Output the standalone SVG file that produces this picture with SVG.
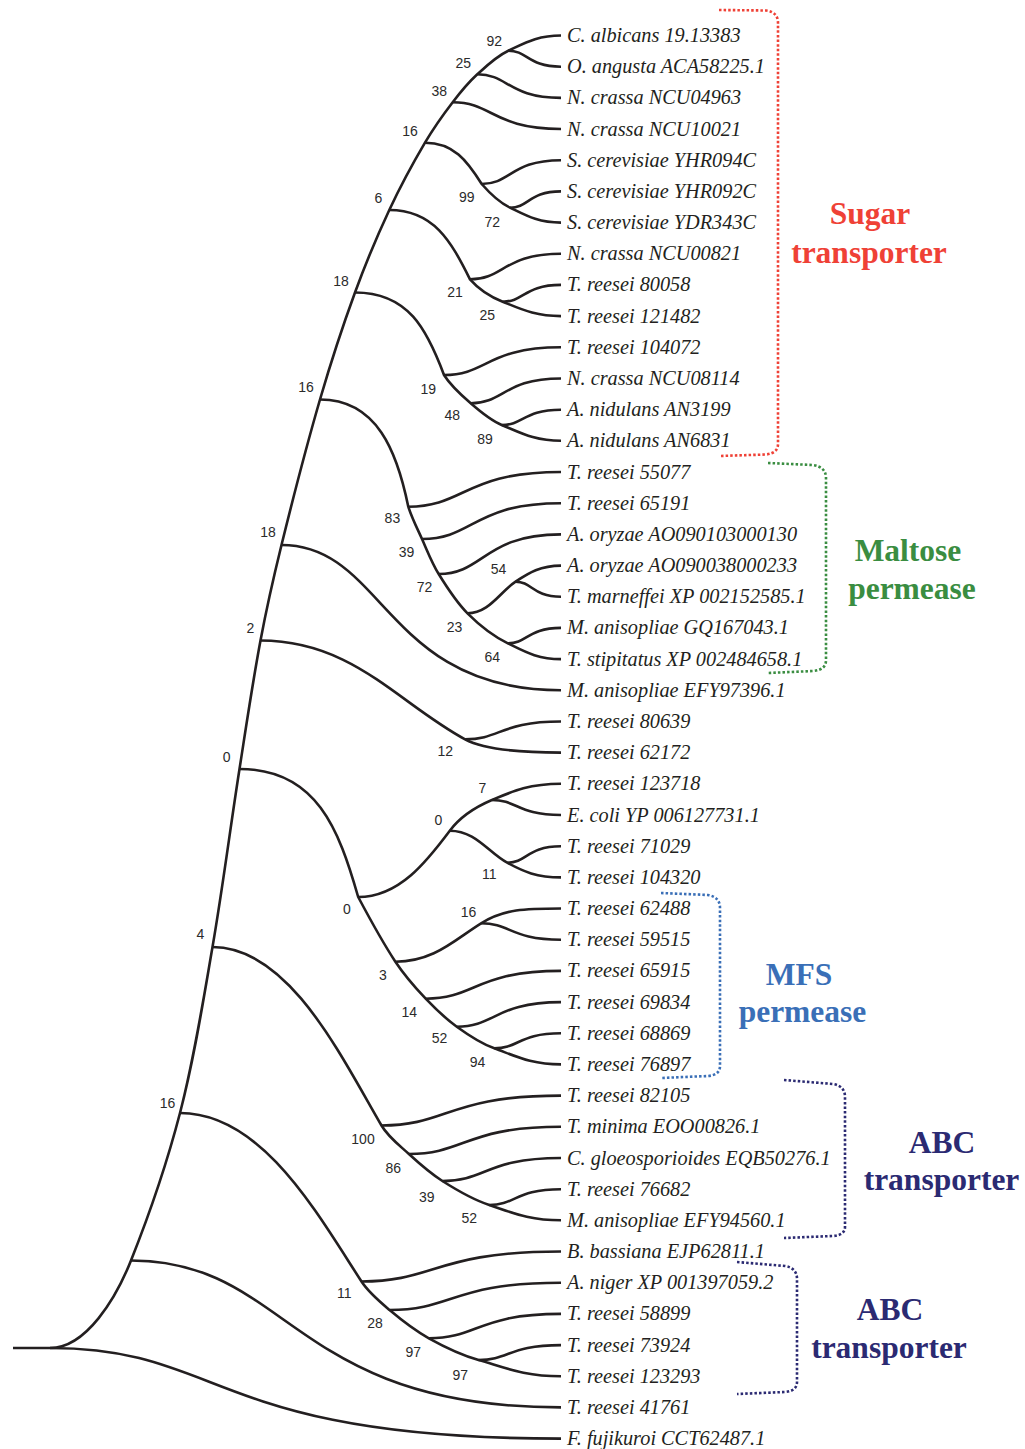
<svg xmlns="http://www.w3.org/2000/svg" width="1025" height="1449" viewBox="0 0 1025 1449">
<style>
.br{fill:none;stroke:#231f20;stroke-width:2.6;stroke-linejoin:round}
.lf{font-family:"Liberation Serif","Times New Roman",serif;font-style:italic;font-size:20.3px;fill:#231f20}
.bs{font-family:"Liberation Sans",Arial,sans-serif;font-size:14px;fill:#2b2b2b;text-anchor:middle}
.gl{font-family:"Liberation Serif","Times New Roman",serif;font-weight:bold;font-size:31.5px;text-anchor:middle}
.dot{fill:none;stroke-width:2.6;stroke-dasharray:2.5 2.1}
</style>
<rect width="1025" height="1449" fill="#ffffff"/>
<g id="connectors">
<path class="br" d="M13,1348 L50,1348 C86.5,1348 116.3,1297.4 131,1260.5 C150.1,1212.4 167,1163.1 180,1113 C194.2,1058.4 202.9,1002.6 212.5,947 C222.7,887.9 230.2,828.3 239.5,769 C246.2,726.1 252.5,683.2 260.5,640.5 C266.5,608.5 273.7,576.7 281.5,545 C293.5,496.3 306,447.7 320,399.5 C330.5,363.5 342.1,327.7 355,292.5 C365.2,264.5 376.7,237 389.3,210 C400.1,187 412.1,164.6 425,142.7 C433.3,128.7 442.8,115.2 452.7,102.3 C460.2,92.4 468.2,82.7 477.3,74.3 C486.8,65.5 496.5,56.2 508.3,50.7 C524.9,43 537.3,35.5 561,35.5"/>
<path class="br" d="M50,1348 C225,1348 210,1438.6 561,1438.6"/>
<path class="br" d="M131,1260.5 C290.1,1260.5 290.1,1407.4 561,1407.4"/>
<path class="br" d="M281.5,545 C384.9,545 384.9,690.3 561,690.3"/>
<path class="br" d="M180,1113 C261.7,1113 316.5,1212.2 361.5,1281.5 C368.8,1292.7 379.4,1301.4 389.6,1310 C401.9,1320.4 414.8,1330.4 428.9,1338.3 C444.7,1347.1 461.2,1355 478.6,1360 C505.5,1367.7 523.9,1376.2 561,1376.2"/>
<path class="br" d="M361.5,1281.5 C435.3,1281.5 435.3,1251.5 561,1251.5"/>
<path class="br" d="M389.6,1310 C453,1310 453,1282.7 561,1282.7"/>
<path class="br" d="M428.9,1338.3 C477.8,1338.3 477.8,1313.9 561,1313.9"/>
<path class="br" d="M478.6,1360 C509.1,1360 509.1,1345.1 561,1345.1"/>
<path class="br" d="M212.5,947 C288.6,947 340.3,1054.7 381.5,1125.5 C388.1,1136.9 399.2,1145.1 408.9,1154 C419.5,1163.7 430.3,1173.3 442.4,1181 C457.2,1190.4 472.6,1199.5 489.3,1205 C512.5,1212.7 528.7,1220.3 561,1220.3"/>
<path class="br" d="M381.5,1125.5 C447.9,1125.5 447.9,1095.6 561,1095.6"/>
<path class="br" d="M408.9,1154 C465.2,1154 465.2,1126.8 561,1126.8"/>
<path class="br" d="M442.4,1181 C486.3,1181 486.3,1158 561,1158"/>
<path class="br" d="M489.3,1205 C515.8,1205 515.8,1189.2 561,1189.2"/>
<path class="br" d="M239.5,769 C316.7,769 339,829.9 358.2,897 C369.9,919 381.7,941 395.4,961.7 C404.2,975 414.8,987.1 425.7,998.7 C435.3,1008.8 445.5,1018.5 456.8,1026.7 C468.5,1035.2 480.7,1043.4 494.3,1048.3 C515.8,1056.1 531,1064.4 561,1064.4"/>
<path class="br" d="M358.2,897 C399.4,897 427.2,860.9 449.8,830.7 C460.2,816.8 475.9,806.8 491.9,800 C513.7,790.8 529.9,783.8 561,783.8"/>
<path class="br" d="M491.9,800 C517.5,800 517.5,815 561,815"/>
<path class="br" d="M449.8,830.7 C475.6,830.7 488,852.2 507.2,862.7 C523.5,871.6 536.8,877.4 561,877.4"/>
<path class="br" d="M507.2,862.7 C527.1,862.7 527.1,846.2 561,846.2"/>
<path class="br" d="M395.4,961.7 C434,961.7 454.5,939.8 481.1,923.3 C504.1,909 525,908.5 561,908.5"/>
<path class="br" d="M481.1,923.3 C510.7,923.3 510.7,939.7 561,939.7"/>
<path class="br" d="M425.7,998.7 C475.8,998.7 475.8,970.9 561,970.9"/>
<path class="br" d="M456.8,1026.7 C495.4,1026.7 495.4,1002.1 561,1002.1"/>
<path class="br" d="M494.3,1048.3 C519,1048.3 519,1033.3 561,1033.3"/>
<path class="br" d="M260.5,640.5 C352.6,640.5 398.4,703.4 465.1,739.3 C482.7,748.8 517.8,752.6 561,752.6"/>
<path class="br" d="M465.1,739.3 C500.6,739.3 500.6,721.5 561,721.5"/>
<path class="br" d="M320,399.5 C377.4,399.5 397.2,452.2 408.3,506.7 C411.8,517.9 417.2,528.3 422,539 C427.3,550.8 431.9,563 438.7,574 C447.2,587.8 456,601.8 467.5,613.3 C479.4,625.2 492.8,635.9 507.9,643.3 C524.5,651.4 537.1,659.1 561,659.1"/>
<path class="br" d="M408.3,506.7 C464.8,506.7 464.8,472 561,472"/>
<path class="br" d="M422,539 C473.4,539 473.4,503.2 561,503.2"/>
<path class="br" d="M438.7,574 C483.9,574 483.9,534.4 561,534.4"/>
<path class="br" d="M467.5,613.3 C489.1,613.3 499.6,592.3 515.6,581.7 C529,572.8 540.6,565.6 561,565.6"/>
<path class="br" d="M515.6,581.7 C532.4,581.7 532.4,596.7 561,596.7"/>
<path class="br" d="M507.9,643.3 C527.5,643.3 527.5,627.9 561,627.9"/>
<path class="br" d="M355,292.5 C408.4,292.5 427,329.5 444,375 C450.9,386 460.9,394.8 470.7,403.3 C480.2,411.6 490.1,420.2 501.7,425 C520.6,432.8 534.3,440.8 561,440.8"/>
<path class="br" d="M444,375 C487.3,375 487.3,347.3 561,347.3"/>
<path class="br" d="M470.7,403.3 C504.1,403.3 504.1,378.5 561,378.5"/>
<path class="br" d="M501.7,425 C523.6,425 523.6,409.7 561,409.7"/>
<path class="br" d="M389.3,210 C433.7,210 451,241.2 470,279.3 C478.7,289.2 490.5,296.8 502.7,301.7 C521.3,309.2 534.8,316.1 561,316.1"/>
<path class="br" d="M470,279.3 C503.7,279.3 503.7,253.8 561,253.8"/>
<path class="br" d="M502.7,301.7 C524.3,301.7 524.3,284.9 561,284.9"/>
<path class="br" d="M425,142.7 C453.4,142.7 466.9,160.3 481.7,184 C489.8,193.3 498.9,202.3 510,207.7 C525.9,215.4 538,222.6 561,222.6"/>
<path class="br" d="M481.7,184 C511,184 511,160.2 561,160.2"/>
<path class="br" d="M510,207.7 C528.9,207.7 528.9,191.4 561,191.4"/>
<path class="br" d="M452.7,102.3 C492.8,102.3 492.8,129 561,129"/>
<path class="br" d="M477.3,74.3 C508.3,74.3 508.3,97.9 561,97.9"/>
<path class="br" d="M508.3,50.7 C527.8,50.7 527.8,66.7 561,66.7"/>
</g>
<g id="leaves">
<g id="leaf01"><text class="lf" x="567" y="42">C. albicans 19.13383</text></g>
<g id="leaf02"><text class="lf" x="567" y="73.2">O. angusta ACA58225.1</text></g>
<g id="leaf03"><text class="lf" x="567" y="104.4">N. crassa NCU04963</text></g>
<g id="leaf04"><text class="lf" x="567" y="135.5">N. crassa NCU10021</text></g>
<g id="leaf05"><text class="lf" x="567" y="166.7">S. cerevisiae YHR094C</text></g>
<g id="leaf06"><text class="lf" x="567" y="197.9">S. cerevisiae YHR092C</text></g>
<g id="leaf07"><text class="lf" x="567" y="229.1">S. cerevisiae YDR343C</text></g>
<g id="leaf08"><text class="lf" x="567" y="260.3">N. crassa NCU00821</text></g>
<g id="leaf09"><text class="lf" x="567" y="291.4">T. reesei 80058</text></g>
<g id="leaf10"><text class="lf" x="567" y="322.6">T. reesei 121482</text></g>
<g id="leaf11"><text class="lf" x="567" y="353.8">T. reesei 104072</text></g>
<g id="leaf12"><text class="lf" x="567" y="385">N. crassa NCU08114</text></g>
<g id="leaf13"><text class="lf" x="567" y="416.2">A. nidulans AN3199</text></g>
<g id="leaf14"><text class="lf" x="567" y="447.3">A. nidulans AN6831</text></g>
<g id="leaf15"><text class="lf" x="567" y="478.5">T. reesei 55077</text></g>
<g id="leaf16"><text class="lf" x="567" y="509.7">T. reesei 65191</text></g>
<g id="leaf17"><text class="lf" x="567" y="540.9">A. oryzae AO090103000130</text></g>
<g id="leaf18"><text class="lf" x="567" y="572.1">A. oryzae AO090038000233</text></g>
<g id="leaf19"><text class="lf" x="567" y="603.2">T. marneffei XP 002152585.1</text></g>
<g id="leaf20"><text class="lf" x="567" y="634.4">M. anisopliae GQ167043.1</text></g>
<g id="leaf21"><text class="lf" x="567" y="665.6">T. stipitatus XP 002484658.1</text></g>
<g id="leaf22"><text class="lf" x="567" y="696.8">M. anisopliae EFY97396.1</text></g>
<g id="leaf23"><text class="lf" x="567" y="728">T. reesei 80639</text></g>
<g id="leaf24"><text class="lf" x="567" y="759.1">T. reesei 62172</text></g>
<g id="leaf25"><text class="lf" x="567" y="790.3">T. reesei 123718</text></g>
<g id="leaf26"><text class="lf" x="567" y="821.5">E. coli YP 006127731.1</text></g>
<g id="leaf27"><text class="lf" x="567" y="852.7">T. reesei 71029</text></g>
<g id="leaf28"><text class="lf" x="567" y="883.9">T. reesei 104320</text></g>
<g id="leaf29"><text class="lf" x="567" y="915">T. reesei 62488</text></g>
<g id="leaf30"><text class="lf" x="567" y="946.2">T. reesei 59515</text></g>
<g id="leaf31"><text class="lf" x="567" y="977.4">T. reesei 65915</text></g>
<g id="leaf32"><text class="lf" x="567" y="1008.6">T. reesei 69834</text></g>
<g id="leaf33"><text class="lf" x="567" y="1039.8">T. reesei 68869</text></g>
<g id="leaf34"><text class="lf" x="567" y="1070.9">T. reesei 76897</text></g>
<g id="leaf35"><text class="lf" x="567" y="1102.1">T. reesei 82105</text></g>
<g id="leaf36"><text class="lf" x="567" y="1133.3">T. minima EOO00826.1</text></g>
<g id="leaf37"><text class="lf" x="567" y="1164.5">C. gloeosporioides EQB50276.1</text></g>
<g id="leaf38"><text class="lf" x="567" y="1195.7">T. reesei 76682</text></g>
<g id="leaf39"><text class="lf" x="567" y="1226.8">M. anisopliae EFY94560.1</text></g>
<g id="leaf40"><text class="lf" x="567" y="1258">B. bassiana EJP62811.1</text></g>
<g id="leaf41"><text class="lf" x="567" y="1289.2">A. niger XP 001397059.2</text></g>
<g id="leaf42"><text class="lf" x="567" y="1320.4">T. reesei 58899</text></g>
<g id="leaf43"><text class="lf" x="567" y="1351.6">T. reesei 73924</text></g>
<g id="leaf44"><text class="lf" x="567" y="1382.7">T. reesei 123293</text></g>
<g id="leaf45"><text class="lf" x="567" y="1413.9">T. reesei 41761</text></g>
<g id="leaf46"><text class="lf" x="567" y="1445.1">F. fujikuroi CCT62487.1</text></g>
</g>
<g id="support-values">
<g id="n92"><text class="bs" x="494.3" y="45.7">92</text></g>
<g id="n25a"><text class="bs" x="463.3" y="68.3">25</text></g>
<g id="n38"><text class="bs" x="439.3" y="95.7">38</text></g>
<g id="n16b"><text class="bs" x="410" y="136">16</text></g>
<g id="n6"><text class="bs" x="378.3" y="203.3">6</text></g>
<g id="n99"><text class="bs" x="466.7" y="202.3">99</text></g>
<g id="n72a"><text class="bs" x="492.3" y="226.7">72</text></g>
<g id="n18b"><text class="bs" x="341" y="285.5">18</text></g>
<g id="n21"><text class="bs" x="455" y="296.7">21</text></g>
<g id="n25b"><text class="bs" x="487.3" y="320">25</text></g>
<g id="n16a"><text class="bs" x="306" y="391.5">16</text></g>
<g id="n19"><text class="bs" x="428.3" y="394.3">19</text></g>
<g id="n48"><text class="bs" x="452.3" y="420">48</text></g>
<g id="n89"><text class="bs" x="485" y="444.3">89</text></g>
<g id="n83"><text class="bs" x="392.4" y="523.3">83</text></g>
<g id="n18a"><text class="bs" x="268" y="537">18</text></g>
<g id="n39a"><text class="bs" x="406.5" y="556.7">39</text></g>
<g id="n54"><text class="bs" x="498.6" y="574.3">54</text></g>
<g id="n72b"><text class="bs" x="424.6" y="591.7">72</text></g>
<g id="n2"><text class="bs" x="250.5" y="633">2</text></g>
<g id="n23"><text class="bs" x="454.6" y="632.3">23</text></g>
<g id="n64"><text class="bs" x="492.3" y="661.7">64</text></g>
<g id="n12"><text class="bs" x="445.2" y="756">12</text></g>
<g id="n0a"><text class="bs" x="226.7" y="761.5">0</text></g>
<g id="n7"><text class="bs" x="482.3" y="793.3">7</text></g>
<g id="n0b"><text class="bs" x="438.3" y="825">0</text></g>
<g id="n11a"><text class="bs" x="489.2" y="879">11</text></g>
<g id="n0c"><text class="bs" x="346.8" y="914.2">0</text></g>
<g id="n16c"><text class="bs" x="468.6" y="917.3">16</text></g>
<g id="n4"><text class="bs" x="200.3" y="939.2">4</text></g>
<g id="n3"><text class="bs" x="382.8" y="980">3</text></g>
<g id="n14"><text class="bs" x="409.3" y="1016.7">14</text></g>
<g id="n52a"><text class="bs" x="439.6" y="1043.3">52</text></g>
<g id="n94"><text class="bs" x="477.5" y="1066.7">94</text></g>
<g id="n16d"><text class="bs" x="167.6" y="1108">16</text></g>
<g id="n100"><text class="bs" x="363" y="1143.5">100</text></g>
<g id="n86"><text class="bs" x="393.3" y="1173.3">86</text></g>
<g id="n39b"><text class="bs" x="426.8" y="1201.7">39</text></g>
<g id="n52b"><text class="bs" x="469.2" y="1223.3">52</text></g>
<g id="n11b"><text class="bs" x="344.3" y="1298.2">11</text></g>
<g id="n28"><text class="bs" x="375" y="1328.4">28</text></g>
<g id="n97a"><text class="bs" x="413.2" y="1356.7">97</text></g>
<g id="n97b"><text class="bs" x="460.3" y="1380">97</text></g>
</g>
<g id="clade-sugar">
<path class="dot" stroke="#ef4136" d="M719,10 L766,10.5 Q778,12 778,23 L778,444 Q778,453 766,454.5 L719,456"/>
<text class="gl" fill="#ef4136" x="870" y="224">Sugar</text>
<text class="gl" fill="#ef4136" x="869" y="263">transporter</text>
</g>
<g id="clade-maltose">
<path class="dot" stroke="#3a8d41" d="M768,463 L813,465 Q826,467 826,478 L826,660 Q826,670 813,671 L768,673"/>
<text class="gl" fill="#3a8d41" x="908" y="561">Maltose</text>
<text class="gl" fill="#3a8d41" x="912" y="598.5">permease</text>
</g>
<g id="clade-mfs">
<path class="dot" stroke="#3a6fb7" d="M661,893 L708,895 Q720,897 720,908 L720,1066 Q720,1075 708,1076 L661,1078"/>
<text class="gl" fill="#3a6fb7" x="799" y="985">MFS</text>
<text class="gl" fill="#3a6fb7" x="802.5" y="1022">permease</text>
</g>
<g id="clade-abc1">
<path class="dot" stroke="#2b2a72" d="M784,1080 L833,1084 Q845,1086 845,1097 L845,1227 Q845,1235 833,1236 L784,1238"/>
<text class="gl" fill="#2b2a72" x="942" y="1153">ABC</text>
<text class="gl" fill="#2b2a72" x="941.5" y="1190">transporter</text>
</g>
<g id="clade-abc2">
<path class="dot" stroke="#2b2a72" d="M737,1262 L785,1266 Q797,1268 797,1279 L797,1382 Q797,1391 785,1392 L737,1394"/>
<text class="gl" fill="#2b2a72" x="890" y="1320">ABC</text>
<text class="gl" fill="#2b2a72" x="889" y="1358">transporter</text>
</g>
</svg>
